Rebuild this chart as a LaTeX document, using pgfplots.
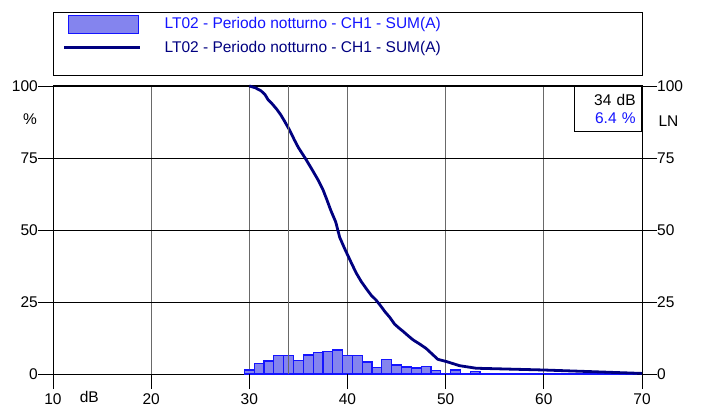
\documentclass[border=0pt]{standalone}
\usepackage{pgfplots}
\pgfplotsset{compat=1.18}
\usepackage{fontspec}
\setmainfont{Liberation Sans}
\definecolor{navyln}{RGB}{0,0,128}
\definecolor{barblue}{RGB}{20,20,255}
\definecolor{barfill}{RGB}{132,132,238}
\definecolor{gridgray}{RGB}{105,105,105}
\begin{document}
\fontsize{15.5}{18.6}\selectfont
\begin{tikzpicture}
\useasboundingbox (0pt,0pt) rectangle (701pt,407pt);
\begin{axis}[
  at={(53pt,33pt)}, anchor=south west,
  width=589pt, height=288pt, scale only axis,
  xmin=10, xmax=70, ymin=0, ymax=100,
  xtick={10,20,...,70},
  ytick={0,25,50,75,100},
  tick align=outside, major tick length=15pt,
  major tick style={black, line width=0.8pt},
  xtick pos=left,
  grid=major,
  x grid style={gridgray, line width=1pt},
  y grid style={black, line width=0.8pt},
  axis line style={black, line width=1pt},
  /pgf/number format/assume math mode=true,
  xticklabel style={anchor=north, inner sep=0pt, yshift=-4.5pt},
  yticklabel style={anchor=east, inner sep=0pt},
  clip=false, unbounded coords=jump,
  legend style={at={(0,1)}, anchor=north west, xshift=10pt, yshift=71pt,
    draw=none, fill=none, inner sep=0pt, outer sep=0pt,
    row sep=7pt, column sep=23pt, nodes={inner sep=0pt}},
  legend cell align=left,
]
\addplot[ybar, bar width=1, draw=barblue, fill=barfill, line width=1.2pt,
  legend image code/.code={\draw[barblue, fill=barfill, line width=1pt] (0pt,-9pt) rectangle (70pt,9pt);}]
  coordinates {
  (30,1.4) (31,3.7) (32,4.5) (33,6.3) (34,6.4) (35,4.6) (36,6.6) (37,7.5)
  (38,7.8) (39,8.3) (40,6.3) (41,6.3) (42,4.2) (43,2.3) (44,5.1) (45,3.1)
  (46,2.4) (47,2.1) (48,2.5) (49,1.2) (50,0.3) (51,1.4) (52,0.2) (53,0.8)
  (54,0) (55,0) (56,0) (57,0) (58,0) (59,0) (60,0) (61,0) (62,0) (63,0)
  (64,0) (65,0) (66,0) (67,0) (68,0) (69,0)
  };
\addlegendentry[text=barblue]{LT02 - Periodo notturno - CH1 - SUM(A)}
\addplot[navyln, line width=2.8pt, line join=round,
  legend image code/.code={\draw[navyln, line width=2.6pt] (-4pt,0pt) -- (72pt,0pt);}]
  coordinates {
  (30,100) (30.6,99.4) (31.2,98.3) (31.6,97.0) (31.9,95.3) (32.3,93.9) (32.8,91.9)
  (33.2,90.0) (33.6,87.7) (34.1,84.7) (34.6,81.2) (35.0,78.6) (35.7,74.9) (36.3,71.5)
  (37.0,67.4) (37.5,64.0) (37.9,60.5) (38.3,56.8) (38.8,52.8) (39.2,47.5) (39.7,43.6)
  (40.1,40.7) (40.5,37.8) (40.9,35.0) (41.4,32.1) (41.9,29.7) (42.4,27.4) (42.9,25.7)
  (43.3,24.0) (43.8,21.7) (44.3,19.7) (44.8,17.3) (45.3,15.8) (45.7,14.7) (46.2,13.2)
  (46.7,11.8) (47.4,10.3) (48.0,8.9) (48.6,7.0) (49.2,5.1) (50.1,4.3) (51.4,2.9)
  (53.1,2.0) (56.5,1.7) (59.9,1.4) (65,0.8) (70,0.2)
  };
\addlegendentry[text=navyln]{LT02 - Periodo notturno - CH1 - SUM(A)}
\addplot[gridgray, line width=1pt, forget plot] coordinates {(34,0) (34,100)};
% tick marks outside the frame
\addplot[ycomb, black, line width=0.8pt, forget plot, mark=none] coordinates {
  (10,-5.2) (20,-5.2) (30,-5.2) (40,-5.2) (50,-5.2) (60,-5.2) (70,-5.2)};
\addplot[black, line width=0.8pt, forget plot, mark=none] coordinates {
  (8.47,0) (10,0) (nan,nan) (8.47,25) (10,25) (nan,nan) (8.47,50) (10,50)
  (nan,nan) (8.47,75) (10,75) (nan,nan) (8.47,100) (10,100) (nan,nan)
  (70,0) (71.53,0) (nan,nan) (70,25) (71.53,25) (nan,nan) (70,50) (71.53,50)
  (nan,nan) (70,75) (71.53,75) (nan,nan) (70,100) (71.53,100)};
\node at (axis cs:7.66,88.5) {\%};
\node at (axis cs:72.7,87.8) {LN};
\node[anchor=north, inner sep=0pt, yshift=-17.5pt] at (axis cs:13.7,0) {dB};
\node[draw=black, line width=0.8pt, fill=white, anchor=north east,
  text width=55pt, align=right, inner xsep=6pt, minimum height=45pt]
  at (rel axis cs:1,1) {34 dB\\\textcolor{barblue}{6.4 \%}};
\end{axis}
\begin{axis}[
  at={(53pt,33pt)}, anchor=south west,
  width=589pt, height=288pt, scale only axis,
  xmin=10, xmax=70, ymin=0, ymax=100,
  axis x line=none, axis y line*=right,
  ytick={0,25,50,75,100},
  tick align=outside, major tick length=15pt,
  major tick style={draw=none},
  axis line style={draw=none},
  /pgf/number format/assume math mode=true,
  yticklabel style={anchor=west, inner sep=0pt},
]
\end{axis}
\draw[black, line width=0.8pt] (53pt,332pt) rectangle (642.5pt,395pt);
\end{tikzpicture}
\end{document}
